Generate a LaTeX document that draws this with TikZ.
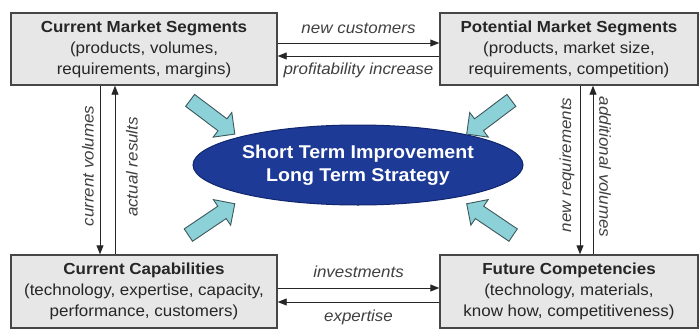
\documentclass[tikz,border=0pt]{standalone}
\usepackage{fontspec}
\setmainfont{Liberation Sans}[FakeStretch=1.06]
\usetikzlibrary{shapes.geometric,shapes.arrows,arrows.meta}

\definecolor{boxgray}{RGB}{231,231,231}
\definecolor{edgegray}{RGB}{70,70,70}
\definecolor{ovalblue}{RGB}{28,58,150}
\definecolor{ovaledge}{RGB}{18,38,110}
\definecolor{pushcyan}{RGB}{140,208,216}
\definecolor{pushedge}{RGB}{60,88,92}

\begin{document}
\begin{tikzpicture}[x=1pt,y=-1pt,
  area/.style={draw=edgegray, line width=1.4pt, fill=boxgray, align=center,
    minimum height=72pt, inner sep=0pt, text=black!85,
    font=\fontsize{16}{21}\selectfont},
  flow/.style={draw=black!85, line width=0.9pt, -{Triangle[length=9pt,width=7pt]}},
  flowlabel/.style={font=\fontsize{16}{19}\selectfont\itshape, text=black!75, inner sep=0pt},
  push/.style={single arrow, draw=pushedge, line width=0.9pt, fill=pushcyan,
    minimum height=56pt, minimum width=30pt, single arrow head extend=8pt,
    single arrow head indent=0pt, inner xsep=0pt, inner ysep=7pt}]
\useasboundingbox (0,0) rectangle (700,329);

% The four boxes
\node[area, minimum width=266pt] (cms) at (144,49)
  {\textbf{Current Market Segments}\\(products, volumes,\\requirements, margins)};
\node[area, minimum width=258pt] (pms) at (569,49)
  {\textbf{Potential Market Segments}\\(products, market size,\\requirements, competition)};
\node[area, minimum width=266pt, minimum height=73pt] (ccap) at (144,291.5)
  {\textbf{Current Capabilities}\\(technology, expertise, capacity,\\performance, customers)};
\node[area, minimum width=258pt, minimum height=73pt] (fcomp) at (569,291.5)
  {\textbf{Future Competencies}\\(technology, materials,\\know how, competitiveness)};

% The oval in the middle
\node[ellipse, draw=ovaledge, line width=1pt, fill=ovalblue, minimum width=330pt,
  minimum height=80pt, inner sep=0pt, align=center, text=white,
  font=\fontsize{18.5}{23}\selectfont\bfseries] (oval) at (358,165)
  {Short Term Improvement\\Long Term Strategy};

% Block arrows pointing at the oval
\node[push, rotate=-37] (ar1) at (209.5,115) {};
\node[push, rotate=217] (ar2) at (492,115) {};
\node[push, rotate=34] (ar3) at (208.5,221.5) {};
\node[push, rotate=146] (ar4) at (493,221.5) {};

% Top and bottom flows
\draw[flow] ([yshift=6pt]cms.east) -- ([yshift=6pt]pms.west);
\draw[flow] ([yshift=-7pt]pms.west) -- ([yshift=-7pt]cms.east);
\draw[flow] ([yshift=3.5pt]ccap.east) -- ([yshift=3.5pt]fcomp.west);
\draw[flow] ([yshift=-10.5pt]fcomp.west) -- ([yshift=-10.5pt]ccap.east);

% Left and right flows
\draw[flow] ([xshift=-44pt]cms.south) -- ([xshift=-44pt]ccap.north);
\draw[flow] ([xshift=-29pt]ccap.north) -- ([xshift=-29pt]cms.south);
\draw[flow] ([xshift=11pt]pms.south) -- ([xshift=11pt]fcomp.north);
\draw[flow] ([xshift=24pt]fcomp.north) -- ([xshift=24pt]pms.south);

% Labels
\node[flowlabel] (newcust) at (358.5,28) {new customers};
\node[flowlabel] (profit) at (358.5,70) {profitability increase};
\node[flowlabel] (invest) at (358.5,272) {investments};
\node[flowlabel] (expert) at (358.5,317) {expertise};
\node[flowlabel, rotate=90] (curvol) at (88,166) {current volumes};
\node[flowlabel, rotate=90] (actres) at (132,167) {actual results};
\node[flowlabel, rotate=90] (newreq) at (567,165) {new requirements};
\node[flowlabel, rotate=-90] (addvol) at (605,167) {additional volumes};
\end{tikzpicture}
\end{document}
